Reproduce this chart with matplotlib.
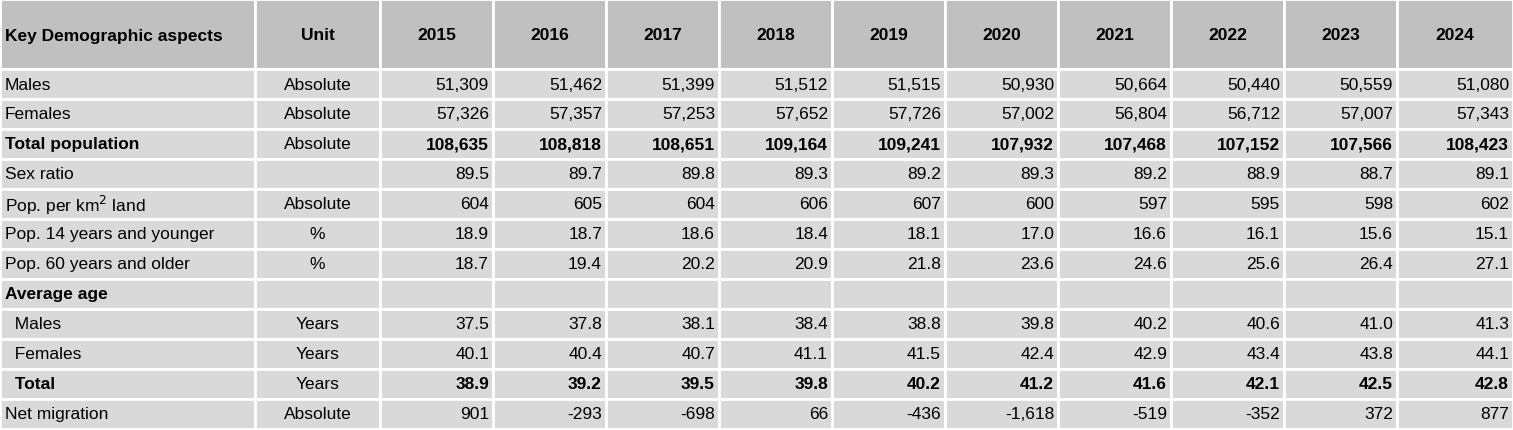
import matplotlib.pyplot as plt
from matplotlib.patches import Rectangle

years = ["2015", "2016", "2017", "2018", "2019", "2020", "2021", "2022", "2023", "2024"]
labels = ["Males", "Females", "Total population", "Sex ratio", "Pop. per km$^2$ land",
          "Pop. 14 years and younger", "Pop. 60 years and older", "Average age",
          "  Males", "  Females", "  Total", "Net migration"]
units = ["Absolute", "Absolute", "Absolute", "", "Absolute", "%", "%", "",
         "Years", "Years", "Years", "Absolute"]
bold_rows = [2, 7, 10]

males = [51309, 51462, 51399, 51512, 51515, 50930, 50664, 50440, 50559, 51080]
females = [57326, 57357, 57253, 57652, 57726, 57002, 56804, 56712, 57007, 57343]
total = [108635, 108818, 108651, 109164, 109241, 107932, 107468, 107152, 107566, 108423]
sex_ratio = [89.5, 89.7, 89.8, 89.3, 89.2, 89.3, 89.2, 88.9, 88.7, 89.1]
density = [604, 605, 604, 606, 607, 600, 597, 595, 598, 602]
young = [18.9, 18.7, 18.6, 18.4, 18.1, 17.0, 16.6, 16.1, 15.6, 15.1]
old = [18.7, 19.4, 20.2, 20.9, 21.8, 23.6, 24.6, 25.6, 26.4, 27.1]
age_m = [37.5, 37.8, 38.1, 38.4, 38.8, 39.8, 40.2, 40.6, 41.0, 41.3]
age_f = [40.1, 40.4, 40.7, 41.1, 41.5, 42.4, 42.9, 43.4, 43.8, 44.1]
age_t = [38.9, 39.2, 39.5, 39.8, 40.2, 41.2, 41.6, 42.1, 42.5, 42.8]
migration = [901, -293, -698, 66, -436, -1618, -519, -352, 372, 877]


def ints(v):
    return [f"{x:,}" for x in v]


def dec(v):
    return [f"{x:.1f}" for x in v]


rows = [ints(males), ints(females), ints(total), dec(sex_ratio), ints(density),
        dec(young), dec(old), [""] * 10, dec(age_m), dec(age_f), dec(age_t), ints(migration)]

W, H = 1513, 431
plt.rcParams["font.family"] = ["Liberation Sans", "DejaVu Sans"]
fig = plt.figure(figsize=(W / 100, H / 100), dpi=100)
ax = fig.add_axes([0, 0, 1, 1])
ax.set_xlim(0, W)
ax.set_ylim(H, 0)
ax.axis("off")

cols = [0, 255, 380] + [380 + 113 * (i + 1) for i in range(9)] + [W]
header_h = 70
row_h = 30
fs = 12.5

def cell(x0, x1, y0, y1, color):
    ax.add_patch(Rectangle((x0, y0), x1 - x0, y1 - y0, facecolor=color,
                           edgecolor="white", linewidth=2))

header = ["Key Demographic aspects", "Unit"] + years
for j, txt in enumerate(header):
    cell(cols[j], cols[j + 1], 0, header_h, "#c0c0c0")
    if j == 0:
        ax.text(cols[j] + 5, header_h / 2 + 1, txt, ha="left", va="center", fontsize=fs, weight="bold")
    else:
        ax.text((cols[j] + cols[j + 1]) / 2, header_h / 2 + 1, txt, ha="center", va="center",
                fontsize=fs, weight="bold")

for i in range(len(labels)):
    y0 = header_h + i * row_h
    yc = y0 + row_h / 2
    w = "bold" if i in bold_rows else "normal"
    for j in range(len(cols) - 1):
        cell(cols[j], cols[j + 1], y0, y0 + row_h, "#d9d9d9")
    ax.text(5, yc, labels[i], ha="left", va="center", fontsize=fs, weight=w)
    ax.text((cols[1] + cols[2]) / 2, yc, units[i], ha="center", va="center", fontsize=fs)
    for k, val in enumerate(rows[i]):
        ax.text(cols[k + 3] - 4, yc, val, ha="right", va="center", fontsize=fs, weight=w)

fig.savefig("out.png", dpi=100, facecolor="white")
